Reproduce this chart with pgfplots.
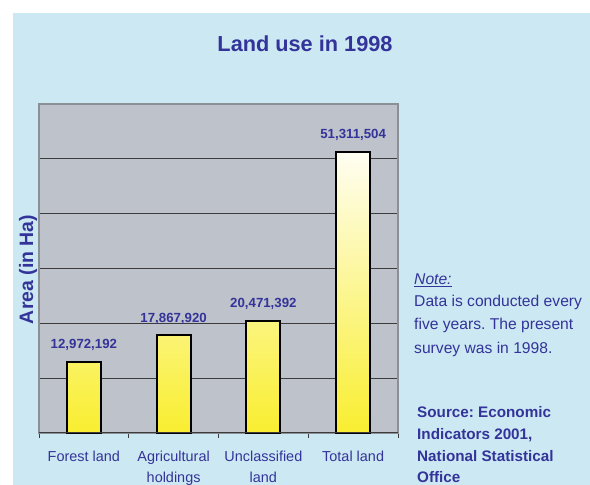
\documentclass[border=0pt]{standalone}
\usepackage{pgfplots}
\pgfplotsset{compat=1.18}
\usepackage{fontspec}
\setmainfont{Liberation Sans}
\frenchspacing
\definecolor{bgblue}{HTML}{CCE9F3}
\definecolor{plotgray}{HTML}{BEC2CA}
\definecolor{framegray}{HTML}{8A9096}
\definecolor{gridgray}{HTML}{3C3C3C}
\definecolor{tblue}{HTML}{333399}
\definecolor{bartop}{HTML}{FFFEF2}
\definecolor{barbot}{HTML}{F9EE30}
\pgfplotstableread{
x y label
0 12972192 12,972,192
1 17867920 17,867,920
2 20471392 20,471,392
3 51311504 51,311,504
}\landdata
\begin{document}
\begin{tikzpicture}[x=1bp,y=1bp]
\useasboundingbox (0,0) rectangle (590,485);
\fill[white] (0,0) rectangle (590,485);
\fill[bgblue] (13,0) rectangle (590,472);
\begin{axis}[
  at={(39bp,52bp)}, anchor=south west,
  scale only axis, width=359bp, height=329bp,
  xmin=-0.5, xmax=3.5, ymin=0, ymax=60000000,
  axis background/.style={fill=plotgray},
  axis line style={draw=framegray, line width=2bp},
  xtick={0,1,2,3},
  xticklabels={Forest land, Agricultural\\holdings, Unclassified\\land, Total land},
  minor xtick={-0.5,0.5,1.5,2.5,3.5},
  xtick pos=lower,
  tick align=outside,
  major tick length=0pt,
  minor tick length=5bp,
  minor tick style={draw=gridgray, line width=0.8bp},
  ytick={10000000,20000000,30000000,40000000,50000000},
  yticklabels={},
  ytick pos=left,
  ymajorgrids,
  major grid style={draw=gridgray, line width=0.9bp},
  xticklabel style={text=tblue, font=\fontsize{14.5}{20.5}\selectfont, align=center, yshift=-15bp},
  scaled y ticks=false,
  clip=false,
]
\addplot[ybar, bar width=34bp, draw=black, line width=2.2bp,
  top color=bartop, bottom color=barbot,
  point meta=explicit symbolic,
  nodes near coords,
  nodes near coords style={text=tblue, font=\fontsize{13.3}{15}\selectfont\bfseries, anchor=base, yshift=13bp}
] table[x=x, y=y, meta=label] {\landdata};
\draw[gridgray, line width=1bp] (axis cs:-0.5,0) -- (axis cs:3.5,0);
\end{axis}
\node[anchor=base, text=tblue, font=\fontsize{21.8}{25}\selectfont\bfseries] at (305,433) {Land use in 1998};
\node[rotate=90, text=tblue, font=\fontsize{19.5}{22}\selectfont\bfseries] at (28,215.5) {Area (in Ha)};
\node[anchor=base west, inner sep=0pt, text=tblue, font=\fontsize{15.7}{18}\selectfont] at (414,200) {\underline{\textit{Note:}}};
\node[anchor=base west, inner sep=0pt, text=tblue, font=\fontsize{15.7}{18}\selectfont] at (414,178.5) {Data is conducted every};
\node[anchor=base west, inner sep=0pt, text=tblue, font=\fontsize{15.7}{18}\selectfont] at (414,155) {five years. The present};
\node[anchor=base west, inner sep=0pt, text=tblue, font=\fontsize{15.7}{18}\selectfont] at (414,131.5) {survey was in 1998.};
\node[anchor=base west, inner sep=0pt, text=tblue, font=\fontsize{15.3}{18}\selectfont\bfseries] at (417,67) {Source: Economic};
\node[anchor=base west, inner sep=0pt, text=tblue, font=\fontsize{15.3}{18}\selectfont\bfseries] at (417,45) {Indicators 2001,};
\node[anchor=base west, inner sep=0pt, text=tblue, font=\fontsize{15.3}{18}\selectfont\bfseries] at (417,23.5) {National Statistical};
\node[anchor=base west, inner sep=0pt, text=tblue, font=\fontsize{15.3}{18}\selectfont\bfseries] at (417,2.3) {Office};
\end{tikzpicture}
\end{document}
